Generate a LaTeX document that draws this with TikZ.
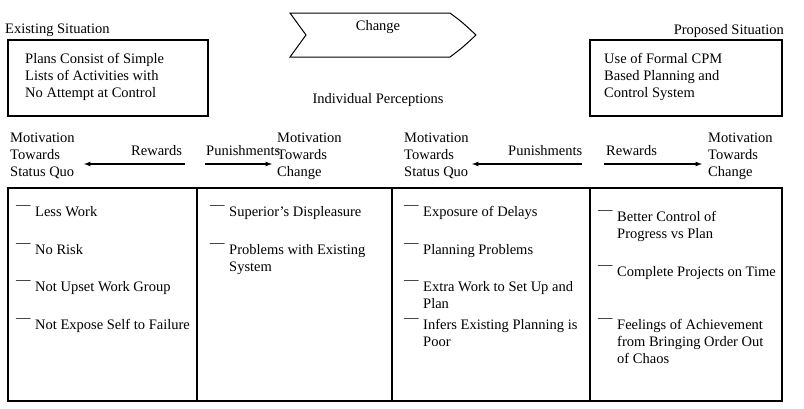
\documentclass[tikz,border=0pt]{standalone}
\usepackage{fontspec}
\setmainfont{Liberation Serif}
\begin{document}
\begin{tikzpicture}[x=1pt,y=-1pt,
  every node/.style={font=\fontsize{14.5}{17}\selectfont,inner sep=0pt},
  lbl/.style={anchor=north west,align=left},
  frame/.style={draw,line width=1.1pt},
  arr/.style={-latex,line width=1.2pt}]
\useasboundingbox (0,0) rectangle (804,408);
% top
\node[lbl] (es) at (5,24) {Existing Situation};
\draw[frame] (8,40) rectangle (208,116);
\node[lbl] (esb) at (25,53) {Plans Consist of Simple\\Lists of Activities with\\No Attempt at Control};
\node[anchor=north east] (ps) at (784,24) {Proposed Situation};
\draw[frame] (590,40) rectangle (782,116);
\node[lbl] (psb) at (604,53) {Use of Formal CPM\\Based Planning and\\Control System};
\draw[line width=1pt] (290,13) -- (450,13) .. controls (462,22) .. (476,35) .. controls (462,48) .. (450,57) -- (290,57) -- (306,35) -- cycle;
\node (ch) at (378,27) {Change};
\node (ip) at (378,100) {Individual Perceptions};
% middle
\node[lbl] (m1) at (10,133) {Motivation\\Towards\\Status Quo};
\coordinate (a1s) at (185,164); \coordinate (a1e) at (84,164);
\draw[arr] (a1s) -- (a1e);
\node[lbl] (r1) at (131,145) {Rewards};
\node[lbl] (p1) at (206,145) {Punishments};
\coordinate (a2s) at (205,164); \coordinate (a2e) at (272,164);
\draw[arr] (a2s) -- (a2e);
\node[lbl] (m2) at (277,133) {Motivation\\Towards\\Change};
\node[lbl] (m3) at (404,133) {Motivation\\Towards\\Status Quo};
\coordinate (a3s) at (582,164); \coordinate (a3e) at (472,164);
\draw[arr] (a3s) -- (a3e);
\node[lbl] (p3) at (508,145) {Punishments};
\node[lbl] (r4) at (606,145) {Rewards};
\coordinate (a4s) at (604,164); \coordinate (a4e) at (702,164);
\draw[arr] (a4s) -- (a4e);
\node[lbl] (m4) at (708,133) {Motivation\\Towards\\Change};
% table
\draw[frame] (8,188) rectangle (782,401);
\draw[line width=1.1pt] (197,188) -- (197,401) (392,188) -- (392,401) (590,188) -- (590,401);
\newcommand{\itm}[4]{\node[lbl] (#4d) at (#1,#2) {—};\node[lbl] (#4t) at (#1+19,#2) {#3};}
\itm{16}{206}{Less Work}{c1a}
\itm{16}{244}{No Risk}{c1b}
\itm{16}{281}{Not Upset Work Group}{c1c}
\itm{16}{319}{Not Expose Self to Failure}{c1d}
\itm{210}{206}{Superior's Displeasure}{c2a}
\itm{210}{244}{Problems with Existing\\System}{c2b}
\itm{404}{206}{Exposure of Delays}{c3a}
\itm{404}{244}{Planning Problems}{c3b}
\itm{404}{281}{Extra Work to Set Up and\\Plan}{c3c}
\itm{404}{319}{Infers Existing Planning is\\Poor}{c3d}
\itm{598}{211}{Better Control of\\Progress vs Plan}{c4a}
\itm{598}{266}{Complete Projects on Time}{c4b}
\itm{598}{319}{Feelings of Achievement\\from Bringing Order Out\\of Chaos}{c4c}
\end{tikzpicture}
\end{document}
